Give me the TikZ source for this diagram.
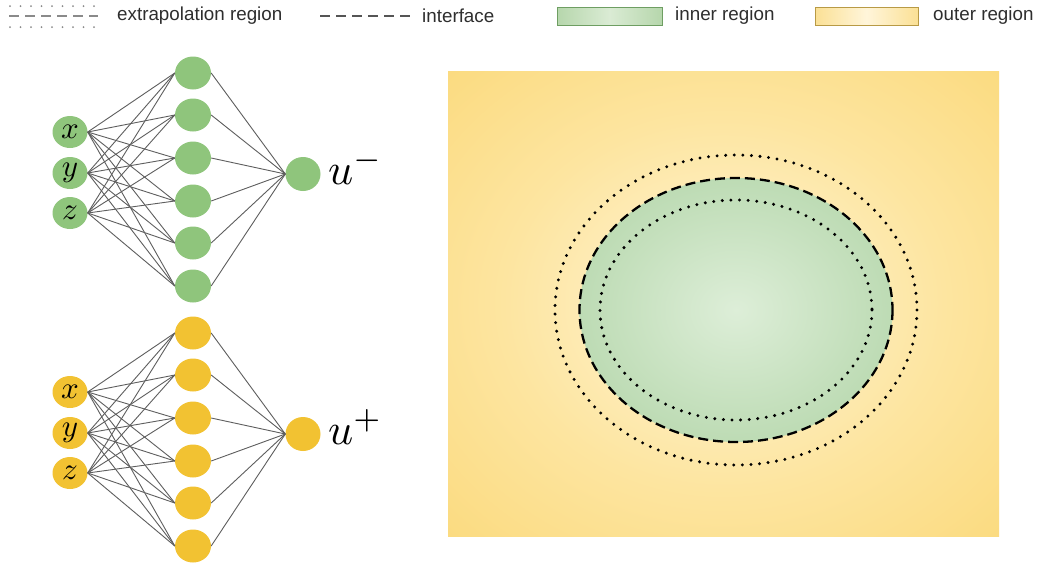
\documentclass[tikz,border=0pt]{standalone}
\usepackage[no-math]{fontspec}
\setmainfont{Liberation Sans}
\usetikzlibrary{shapes.geometric}
\definecolor{nngreen}{HTML}{8FC57C}
\definecolor{nnyellow}{HTML}{F2C232}
\definecolor{linkgray}{HTML}{5E5E5E}
\definecolor{legtext}{HTML}{2E2E2E}
\definecolor{leggray}{HTML}{8A8A8A}
\definecolor{ifgray}{HTML}{555555}
\definecolor{oin}{HTML}{FFF5D8}
\definecolor{omid}{HTML}{FDE5A0}
\definecolor{oout}{HTML}{F8CB4E}
\definecolor{gin}{HTML}{DDEED8}
\definecolor{gmid}{HTML}{B4D6AA}
\definecolor{gout}{HTML}{9CC78F}
\definecolor{gbarA}{HTML}{92C284}
\definecolor{gbarB}{HTML}{DAEBD4}
\definecolor{gbarline}{HTML}{6E9E62}
\definecolor{ybarA}{HTML}{F7CC50}
\definecolor{ybarB}{HTML}{FFF5DA}
\definecolor{ybarline}{HTML}{B89A45}
\pgfdeclareradialshading{outerrad}{\pgfpoint{0bp}{0bp}}{color(0bp)=(oin); color(20bp)=(omid); color(60bp)=(oout)}
\pgfdeclareradialshading{innerrad}{\pgfpoint{0bp}{0bp}}{color(0bp)=(gin); color(32bp)=(gmid); color(50bp)=(gout)}
\pgfdeclarehorizontalshading{greenbar}{100bp}{color(0bp)=(gbarA); color(50bp)=(gbarB); color(100bp)=(gbarA)}
\pgfdeclarehorizontalshading{yellowbar}{100bp}{color(0bp)=(ybarA); color(50bp)=(ybarB); color(100bp)=(ybarA)}
\begin{document}
\begin{tikzpicture}[x=1pt,y=-1pt,
  neuron/.style={ellipse, minimum width=36pt, minimum height=33pt, inner sep=0pt, draw=none},
  link/.style={draw=linkgray, line width=0.9pt},
  legtxt/.style={anchor=west, inner sep=0pt, text=legtext, font=\fontsize{18.8}{22}\selectfont},
  legdot/.style={draw=leggray, line width=2pt, line cap=round, dash pattern=on 0pt off 10.5pt},
  legdash/.style={draw=leggray, line width=1.6pt, dash pattern=on 10pt off 6pt},
  ifdash/.style={draw=black, line width=2.3pt, dash pattern=on 10pt off 5pt},
  exdot/.style={draw=black, line width=3.3pt, line cap=round, dash pattern=on 0pt off 8.6pt}]
\useasboundingbox (0,0) rectangle (1038,563);
\fill[white] (0,0) rectangle (1038,563);

% legend
\coordinate (l1a) at (10,6);  \coordinate (l1b) at (98,6);
\coordinate (l2a) at (9,16);  \coordinate (l2b) at (98,16);
\coordinate (l3a) at (10,27); \coordinate (l3b) at (98,27);
\draw[legdot] (l1a) -- (l1b);
\draw[legdash] (l2a) -- (l2b);
\draw[legdot] (l3a) -- (l3b);
\node[legtxt] (lextra) at (117,16) {extrapolation region};
\coordinate (l4a) at (320,16); \coordinate (l4b) at (414,16);
\draw[legdash, draw=ifgray] (l4a) -- (l4b);
\node[legtxt] (linter) at (422,16) {interface};
\path[shading=greenbar, draw=gbarline, line width=0.8pt] (557,7) rectangle (662,25);
\node[legtxt] (linner) at (675,16) {inner region};
\path[shading=yellowbar, draw=ybarline, line width=0.8pt] (815,7) rectangle (918,25);
\node[legtxt] (louter) at (933,16) {outer region};

% domain
\path[shading=outerrad] (448,71) rectangle (999,536);
\coordinate (c) at (736,310);
\path[shading=innerrad] (c) ellipse [x radius=156.5, y radius=132];
\draw[ifdash] (c) ellipse [x radius=156.5, y radius=132];
\draw[exdot] (c) ellipse [x radius=136, y radius=110];
\draw[exdot] (c) ellipse [x radius=181, y radius=155];

% networks
\foreach \net/\col/\off/\sgn in {a/nngreen/0/-, b/nnyellow/260/+}{
  \foreach \i/\v/\yy in {1/x/132, 2/y/173, 3/z/213}{
    \node[neuron, fill=\col, minimum width=35pt, minimum height=32pt] (\net i\i) at (70,{\yy+\off}) {\scalebox{3.1}{$\v$}};
  }
  \foreach \k/\yy in {1/73, 2/115, 3/158, 4/201, 5/243, 6/286}{
    \node[neuron, fill=\col] (\net h\k) at (193,{\yy+\off}) {};
  }
  \node[neuron, fill=\col, minimum width=35pt, minimum height=34pt] (\net o) at (303,{174+\off}) {};
  \node[anchor=base west, inner sep=0pt] (\net lab) at (328,{184+\off}) {\scalebox{4.4}{$u^{\sgn}$}};
  \foreach \i in {1,2,3}{
    \foreach \k in {1,...,6}{
      \draw[link] (\net i\i.east) -- (\net h\k.west);
    }
  }
  \foreach \k in {1,...,6}{
    \draw[link] (\net h\k.east) -- (\net o.west);
  }
}
\end{tikzpicture}
\end{document}
